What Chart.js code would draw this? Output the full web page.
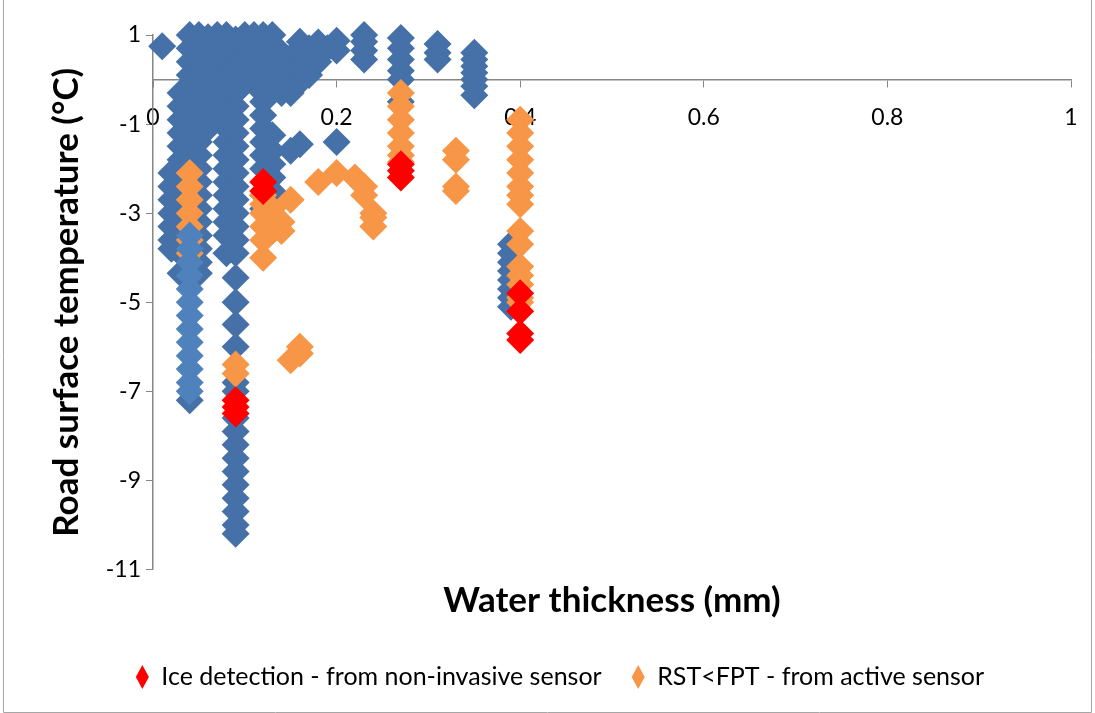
<!DOCTYPE html>
<html>
<head>
<meta charset="utf-8">
<script src="https://cdn.jsdelivr.net/npm/chart.js@4"></script>
<style>
  html, body { margin: 0; padding: 0; background: #fff; }
  #wrap { width: 1095px; height: 713px; }
</style>
</head>
<body>
<div id="wrap"><canvas id="chart" width="1095" height="713"></canvas></div>
<script>
// water thickness (mm) -> list of road surface temperatures (°C)
const allPointsCols = [
  [0.01, [0.75]],
  [0.02, [-2.1, -2.4, -2.7, -3.0, -3.3, -3.6, -3.8]],
  [0.03, [-0.3, -0.6, -0.9, -1.2, -1.5, -1.8, -2.1, -2.4, -2.7, -3.0, -3.3, -3.6, -3.9, -4.35]],
  [0.04, [1.0, 0.7, 0.4, 0.1, -0.2, -0.5, -0.8, -1.1, -1.4, -1.7, -2.0, -2.3, -2.6, -2.9, -3.2, -7.2]],
  [0.05, [1.0, 0.7, 0.4, 0.1, -0.2, -0.5, -0.8, -1.1, -1.4, -1.7, -2.0, -2.3, -2.6, -2.9, -3.2, -3.5, -3.8, -4.1, -4.35]],
  [0.06, [0.95, 0.7, 0.4, 0.1, -0.2, -0.5, -0.8, -1.1]],
  [0.07, [1.0, 0.7, 0.4, 0.1, -0.2, -0.5, -0.8]],
  [0.08, [1.0, 0.7, 0.4, 0.1, -0.2, -0.5, -0.8, -1.1, -1.4, -1.7, -2.0, -2.3, -2.6, -2.9, -3.2, -3.5, -3.9]],
  [0.09, [0.9, 0.6, 0.3, 0.0, -0.3, -0.6, -0.9, -1.2, -1.5, -1.8, -2.1, -2.4, -2.7, -3.0, -3.3, -3.6, -3.9, -4.45, -5.0, -5.5, -6.0, -6.8, -7.0, -7.6, -7.9, -8.2, -8.5, -8.8, -9.1, -9.4, -9.7, -10.0, -10.2]],
  [0.1, [1.0, 0.7, 0.4, 0.1]],
  [0.11, [1.0, 0.7, 0.4, 0.1, -0.1]],
  [0.12, [1.0, 0.7, 0.4, 0.1, -0.2, -0.5, -0.8, -1.1, -1.4, -1.7, -2.0, -2.6, -2.9]],
  [0.13, [1.0, 0.7, 0.4, 0.1, -0.2, -1.25, -1.6, -1.9, -2.2, -2.5]],
  [0.14, [0.6, 0.3, 0.0, -0.3]],
  [0.15, [0.5, 0.2, -0.3, -1.6]],
  [0.16, [0.85, 0.6, 0.17, -0.06, -1.45]],
  [0.17, [0.7, 0.33, 0.1]],
  [0.18, [0.83, 0.6, 0.4]],
  [0.19, [0.7]],
  [0.2, [0.87, 0.65, -1.4]],
  [0.23, [1.0, 0.85, 0.65, 0.45]],
  [0.27, [0.93, 0.7, 0.45, 0.2, 0.0, -0.5]],
  [0.31, [0.8, 0.6, 0.45]],
  [0.35, [0.6, 0.45, 0.3, 0.15, 0.0, -0.15, -0.35]],
  [0.39, [-3.7, -3.9, -4.1, -4.3, -4.5, -4.7, -4.9, -5.1]]
];
const lightBlueCols = [
  [0.04, [-3.5, -3.8, -4.1, -4.4, -4.7, -5.0, -5.3, -5.6, -5.9, -6.2, -6.5, -6.8, -7.0]]
];
const activeSensorCols = [
  [0.04, [-2.1, -2.4, -2.7, -3.0, -3.3, -3.6, -3.9]],
  [0.09, [-6.4, -6.6]],
  [0.12, [-2.6, -2.8, -3.0, -3.3, -3.6, -4.0]],
  [0.13, [-2.9, -3.1, -3.4]],
  [0.14, [-3.2, -3.4]],
  [0.15, [-2.7, -6.3]],
  [0.16, [-6.15, -6.0]],
  [0.18, [-2.3]],
  [0.2, [-2.1]],
  [0.22, [-2.2]],
  [0.23, [-2.4, -2.6]],
  [0.24, [-3.0, -3.1, -3.3]],
  [0.27, [-0.3, -0.6, -0.9, -1.2, -1.5, -1.7, -1.85]],
  [0.33, [-1.6, -1.8, -2.4, -2.5]],
  [0.4, [-0.9, -1.2, -1.5, -1.8, -2.1, -2.4, -2.6, -2.8, -3.4, -3.7, -4.2, -4.4, -4.6, -4.9, -5.0]]
];
const iceDetectionCols = [
  [0.09, [-7.2, -7.35, -7.5]],
  [0.12, [-2.3, -2.5]],
  [0.27, [-1.9, -2.05, -2.2]],
  [0.4, [-4.8, -5.2, -5.7, -5.85]]
];
const xTicks = [0, 0.2, 0.4, 0.6, 0.8, 1];
const yTicks = [1, -1, -3, -5, -7, -9, -11];

function toPoints(cols) {
  const pts = [];
  cols.forEach(function (col) {
    col[1].forEach(function (y) { pts.push({ x: col[0], y: y }); });
  });
  return pts;
}

const FONT = "Lato, 'Open Sans', sans-serif";

const frame = {
  id: "frame",
  afterDraw(chart) {
    const c = chart.ctx;
    c.save();
    c.strokeStyle = "#a6a6a6";
    c.lineWidth = 1;
    c.beginPath();
    c.moveTo(3.5, 0);
    c.lineTo(3.5, 712.5);
    c.lineTo(1091.5, 712.5);
    c.lineTo(1091.5, 0);
    c.stroke();
    c.restore();
  }
};

function pointSet(label, cols, color) {
  return {
    label: label,
    data: toPoints(cols),
    backgroundColor: color,
    borderColor: color,
    borderWidth: 0,
    pointStyle: "rectRot",
    pointRadius: 14,
    pointHoverRadius: 14,
    clip: false
  };
}

// first dataset is painted on top in Chart.js, so red goes first
new Chart(document.getElementById("chart"), {
  type: "scatter",
  data: {
    datasets: [
      pointSet("Ice detection - from non-invasive sensor", iceDetectionCols, "#ff0000"),
      pointSet("Light readings", lightBlueCols, "#4f81bd"),
      pointSet("RST<FPT - from active sensor", activeSensorCols, "#f79646"),
      pointSet("All readings", allPointsCols, "#4571a8")
    ]
  },
  options: {
    responsive: false,
    animation: false,
    layout: { padding: { left: 49, right: 24, top: 35, bottom: 13.5 } },
    plugins: {
      tooltip: { enabled: false },
      legend: {
        position: "bottom",
        labels: {
          usePointStyle: true,
          pointStyleWidth: 13,
          boxHeight: 17,
          padding: 30,
          color: "#000",
          font: { family: FONT, size: 25 },
          filter: function (item) { return item.datasetIndex === 0 || item.datasetIndex === 2; }
        }
      }
    },
    scales: {
      x: {
        type: "linear",
        min: 0,
        max: 1,
        grid: { display: false },
        border: { display: false },
        ticks: { display: false },
        title: {
          display: true,
          text: "Water thickness (mm)",
          color: "#000",
          font: { family: FONT, size: 35, weight: "bold", lineHeight: 1 },
          padding: { top: 5.5, bottom: 16.5 }
        }
      },
      x2: {
        type: "linear",
        axis: "x",
        position: { y: 0 },
        min: 0,
        max: 1,
        afterBuildTicks: function (s) { s.ticks = xTicks.map(function (v) { return { value: v }; }); },
        grid: { drawOnChartArea: false, tickLength: 7, color: "#868686" },
        border: { color: "#868686", width: 1.5 },
        ticks: {
          color: "#000",
          font: { family: FONT, size: 23 },
          padding: 17,
          callback: function (v) { return String(v); }
        }
      },
      y: {
        type: "linear",
        min: -11,
        max: 1,
        afterBuildTicks: function (s) { s.ticks = yTicks.map(function (v) { return { value: v }; }); },
        afterFit: function (s) { s.width = 104; },
        grid: { drawOnChartArea: false, tickLength: 7, color: "#868686" },
        border: { color: "#868686", width: 1.5 },
        ticks: { color: "#000", font: { family: FONT, size: 23 }, padding: 5 },
        title: {
          display: true,
          text: "Road surface temperature (°C)",
          color: "#000",
          font: { family: FONT, size: 35, weight: "bold", lineHeight: 1 },
          padding: { top: 0, bottom: 0 }
        }
      }
    }
  },
  plugins: [frame]
});
</script>
</body>
</html>
